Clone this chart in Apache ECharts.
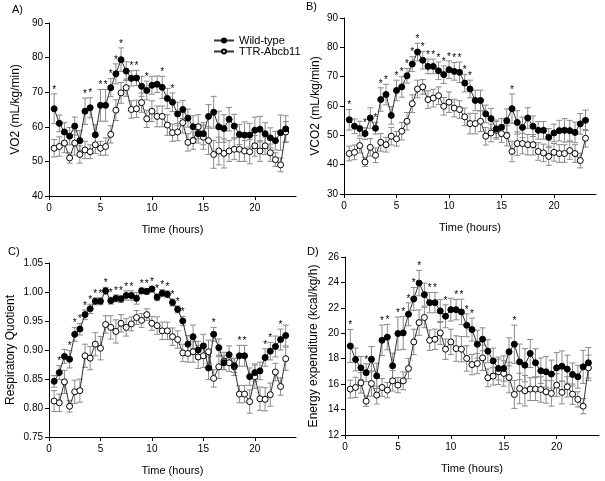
<!DOCTYPE html>
<html><head><meta charset="utf-8">
<script src="https://cdn.jsdelivr.net/npm/echarts@6/dist/echarts.min.js"></script>
<style>html,body{margin:0;padding:0;background:#fff}#c{width:605px;height:481px}</style>
</head><body><div id="c"></div>
<script>
const hours = [0.5,1,1.5,2,2.5,3,3.5,4,4.5,5,5.5,6,6.5,7,7.5,8,8.5,9,9.5,10,10.5,11,11.5,12,12.5,13,13.5,14,14.5,15,15.5,16,16.5,17,17.5,18,18.5,19,19.5,20,20.5,21,21.5,22,22.5,23];
const xTicks = [0,5,10,15,20];

// A) VO2
const vo2Wt = [65.2,61,58.5,57.3,60.2,56,64.5,65.5,57.7,66.2,66.2,71.3,75.3,79.4,76.1,74,74.1,71.7,70.5,72,72.3,71.4,68.2,67.1,63.7,65,62.5,60,58,58,63,64.2,60,59.5,62.2,60.2,57.8,57.6,57.6,59,59.3,58,56.8,56,58.3,59.4];
const vo2WtErr = [4.3,2.4,2.7,2.5,2.6,2.9,3.8,2.9,2.9,4.6,4.6,2.6,2.9,3.4,2.7,2.2,2.2,2.9,2.7,2.6,2.4,3.2,2.9,2.7,3.4,2.6,2.6,3.2,2.7,3.2,3.4,4.6,4.5,4.0,3.4,3.4,2.9,3.8,3.4,3.8,3.7,3.2,2.9,2.7,5.1,3.8];
const vo2Ko = [53.8,54.3,55.3,51,55.3,52,53.3,52.8,54.8,53.8,54.3,57.8,64.8,69.8,71.3,65,65.2,67,62.3,64.5,63,63,60.5,58.3,58.5,61.2,55.5,56,60,57,56,52,53,52.3,53,53.5,53.5,53,52.8,54.5,53,54.5,52.5,50.5,49,58.5];
const vo2KoErr = [2.5,2.8,2.8,1.5,3.5,2.5,2.5,2,2.5,2,2.5,2.5,3,3,2.5,2.5,2.5,2.8,2.5,3,3,3,3,2.5,2.5,3,2.5,2.5,3.5,3.5,4,4,4,4.2,3,3,3.5,3,3.5,3,3,2.5,2.5,2,2,3];
const vo2Stars = [0.5,3.5,4,5,5.5,6,6.5,7,8,8.5,9.5,11,12];

// B) VCO2
const vco2Wt = [55.3,53.1,52.3,50.6,55.9,52.4,62.2,63.9,56.8,65.3,66.5,70.3,74.3,78.4,75.6,73.5,73.5,72,70.7,72.4,71.8,71.5,67.8,65.8,61.9,61.9,57.3,55.7,52.2,52.7,55,59.1,54.4,52.7,55.9,53.1,51.7,51.7,49.3,50.8,51.6,51.7,51.6,51,53.9,55.1];
const vco2WtErr = [3.5,2.5,2.5,2,3.5,2,4,3.5,3,3.5,3.5,2.5,2.5,3,3,2.5,2.5,3,3,3,3,3.5,3,3,3.5,3.5,3,3.5,3,3,4,5,4,3.5,3.5,3.5,3,3,3,3,3.5,4,3.5,3.5,3.5,3.5];
const vco2Ko = [43.8,44.2,46.5,40.9,45.9,43.2,47.6,46.8,49.7,48.8,51.4,54.8,60.8,65.8,66.5,62.2,62.7,63.5,59.9,61.3,59.3,58.8,56.3,54,54,54.8,49.7,50.8,51.7,50.6,49.9,44.5,47.2,47.2,46.8,46.8,44.5,44,42.8,44.2,43.8,43.8,44.8,43.8,41.4,49];
const vco2KoErr = [2.5,2.5,2.5,1.5,3,2.5,3,2.5,3,2.5,3,3,3,3,2.5,3,3,3,3,3.5,3,3,3,3.5,3.5,3.5,3,3,3,3,3.5,3.5,4,3.5,3.5,3.5,3,3,3,3,3,3,3,3,2.5,3];
const vco2Stars = [0.5,2,3,3.5,4,5,5.5,6,6.5,7,7.5,8,8.5,9,9.5,10,10.5,11,11.5,12,16];

// C) Respiratory quotient
const rqWt = [0.846,0.861,0.889,0.884,0.927,0.936,0.961,0.971,0.984,0.984,1.002,0.985,0.989,0.988,0.994,0.994,0.989,1.002,1.001,1.005,0.991,0.998,0.996,0.982,0.970,0.950,0.910,0.923,0.900,0.907,0.869,0.927,0.904,0.878,0.892,0.873,0.890,0.890,0.854,0.861,0.864,0.887,0.898,0.906,0.918,0.925];
const rqWtErr = [0.01,0.012,0.012,0.015,0.012,0.01,0.008,0.008,0.006,0.006,0.006,0.006,0.006,0.006,0.008,0.008,0.01,0.005,0.005,0.005,0.006,0.006,0.006,0.006,0.006,0.008,0.015,0.02,0.015,0.02,0.02,0.012,0.015,0.012,0.015,0.012,0.018,0.018,0.015,0.015,0.015,0.015,0.015,0.018,0.018,0.018];
const rqKo = [0.812,0.809,0.845,0.803,0.828,0.830,0.890,0.886,0.910,0.903,0.944,0.939,0.932,0.946,0.939,0.945,0.956,0.951,0.961,0.946,0.942,0.933,0.933,0.923,0.918,0.895,0.894,0.897,0.888,0.890,0.897,0.851,0.871,0.881,0.878,0.871,0.824,0.824,0.811,0.854,0.816,0.815,0.823,0.862,0.837,0.885];
const rqKoErr = [0.018,0.015,0.02,0.01,0.02,0.02,0.02,0.02,0.02,0.02,0.015,0.02,0.02,0.015,0.015,0.012,0.012,0.012,0.01,0.012,0.015,0.015,0.015,0.015,0.015,0.015,0.015,0.018,0.02,0.02,0.02,0.015,0.02,0.015,0.015,0.015,0.015,0.015,0.02,0.02,0.02,0.02,0.02,0.015,0.015,0.02];
const rqStars = [1,2,2.5,3,3.5,4,4.5,5,5.5,6,6.5,7,7.5,8,9,9.5,10,10.5,11,11.5,12,12.5,13,16,18.5,19,21,21.5,22.5];

// D) Energy expenditure
const eeWt = [19.0,17.94,17.28,16.9,17.96,16.65,19.45,19.7,17.44,19.98,20.03,21.5,22.7,23.95,23.04,22.41,22.41,21.76,21.34,21.86,21.86,21.68,20.63,20.29,19.14,19.53,18.59,17.83,17.23,17.23,18.54,19.14,17.75,17.49,18.41,17.68,17.05,16.97,16.79,17.28,17.41,17.18,16.76,16.58,17.36,17.68];
const eeWtErr = [1.3,0.9,0.9,0.7,1.0,1.0,1.2,1.0,1.0,1.3,1.3,0.9,0.9,1.0,0.9,0.8,0.8,0.9,0.9,0.9,0.8,1.0,0.9,0.9,1.1,0.9,0.9,1.0,0.9,1.0,1.1,1.5,1.4,1.3,1.1,1.1,1.0,1.2,1.1,1.2,1.2,1.1,0.9,0.9,1.3,1.2];
const eeKo = [15.61,15.74,16.1,14.66,16.05,15.14,15.74,15.53,16.26,15.92,16.26,17.23,19.32,20.84,21.24,19.45,19.53,20.03,18.75,19.32,18.8,18.75,18.02,17.54,17.62,18.07,16.5,16.63,16.97,16.84,16.52,15.19,15.66,15.48,15.61,15.61,15.58,15.4,15.27,15.92,15.35,15.79,15.21,14.8,14.27,17.28];
const eeKoErr = [0.7,0.8,0.8,0.4,1.0,0.7,0.7,0.6,0.8,0.6,0.7,0.8,1.0,1.0,0.8,0.8,0.8,0.9,0.8,1.0,1.0,1.0,1.0,0.8,0.8,1.0,0.7,0.7,1.0,1.0,1.2,1.1,1.2,1.2,0.9,0.9,1.0,0.9,1.0,0.9,0.9,0.8,0.8,0.6,0.6,1.0];
const eeStars = [0.5,2,3.5,4,5,5.5,6,6.5,7,8,8.5,9.5,10.5,11,11.5,12,16];

const FONT = '"Liberation Sans", Arial, sans-serif';
const ERR_COLOR = '#8a8a8a';

const panels = [
  {label:'A)', lx:12, ly:4, name:'VO2 (mL/kg/min)', wt:vo2Wt, wtErr:vo2WtErr, ko:vo2Ko, koErr:vo2KoErr, stars:vo2Stars,
   ymin:40, ymax:90, yint:10, dec:0, grid:{left:49, top:23, width:247, height:173}, yGap:27},
  {label:'B)', lx:306, ly:1, name:'VCO2 (mL/kg/min)', wt:vco2Wt, wtErr:vco2WtErr, ko:vco2Ko, koErr:vco2KoErr, stars:vco2Stars,
   ymin:30, ymax:90, yint:10, dec:0, grid:{left:344, top:18, width:252, height:176}, yGap:22},
  {label:'C)', lx:8, ly:246, name:'Respiratory Quotient', wt:rqWt, wtErr:rqWtErr, ko:rqKo, koErr:rqKoErr, stars:rqStars,
   ymin:0.75, ymax:1.05, yint:0.05, dec:2, grid:{left:49, top:263, width:247, height:174}, yGap:32},
  {label:'D)', lx:307, ly:246, name:'Energy expenditure (kcal/kg/h)', wt:eeWt, wtErr:eeWtErr, ko:eeKo, koErr:eeKoErr, stars:eeStars,
   ymin:12, ymax:26, yint:2, dec:0, grid:{left:345, top:257, width:254, height:178}, yGap:25}
];

function errRender(params, api){
  const x = api.value(0), y = api.value(1), e = api.value(2);
  const t = api.coord([x, y + e]), b = api.coord([x, y - e]);
  const w = 3;
  const st = {stroke: ERR_COLOR, lineWidth: 1};
  return {type:'group', children:[
    {type:'line', shape:{x1:t[0], y1:t[1], x2:b[0], y2:b[1]}, style:st},
    {type:'line', shape:{x1:t[0]-w, y1:t[1], x2:t[0]+w, y2:t[1]}, style:st},
    {type:'line', shape:{x1:b[0]-w, y1:b[1], x2:b[0]+w, y2:b[1]}, style:st}
  ]};
}
function starRender(params, api){
  const p = api.coord([api.value(0), api.value(1)]);
  return {type:'text', x:p[0], y:p[1]+1, style:{text:'*', align:'center', verticalAlign:'bottom', textAlign:'center', textVerticalAlign:'bottom', font:'10px ' + FONT, fill:'#000'}};
}

const grids = [], xAxes = [], yAxes = [], series = [], graphics = [];
panels.forEach((p, i) => {
  grids.push(p.grid);
  xAxes.push({type:'value', gridIndex:i, min:0, max:24, interval:5,
    axisLine:{show:true, onZero:false, lineStyle:{color:'#000', width:1}},
    axisTick:{show:true, length:4, lineStyle:{color:'#000'}, customValues:xTicks},
    axisLabel:{customValues:xTicks, fontSize:10, color:'#000', margin:7, fontFamily:FONT},
    splitLine:{show:false},
    name:'Time (hours)', nameLocation:'middle', nameGap:28,
    nameTextStyle:{fontSize:11, color:'#000', fontFamily:FONT}});
  yAxes.push({type:'value', gridIndex:i, min:p.ymin, max:p.ymax, interval:p.yint,
    axisLine:{show:true, onZero:false, lineStyle:{color:'#000', width:1}},
    axisTick:{show:true, length:4, lineStyle:{color:'#000'}},
    axisLabel:{fontSize:10, color:'#000', margin:6, fontFamily:FONT, formatter:v => (+v).toFixed(p.dec)},
    splitLine:{show:false},
    name:p.name, nameLocation:'middle', nameGap:p.yGap,
    nameTextStyle:{fontSize:12, color:'#000', fontFamily:FONT}});
  const koErrData = hours.map((h, k) => [h, p.ko[k], p.koErr[k]]);
  const wtErrData = hours.map((h, k) => [h, p.wt[k], p.wtErr[k]]);
  series.push({type:'custom', xAxisIndex:i, yAxisIndex:i, renderItem:errRender, data:koErrData, z:1, silent:true,
    dimensions:['x','y','e'], encode:{x:0, y:1}});
  series.push({type:'custom', xAxisIndex:i, yAxisIndex:i, renderItem:errRender, data:wtErrData, z:1, silent:true,
    dimensions:['x','y','e'], encode:{x:0, y:1}});
  series.push({type:'line', name:'TTR-Abcb11', xAxisIndex:i, yAxisIndex:i, z:2,
    data:hours.map((h, k) => [h, p.ko[k]]), symbol:'circle', symbolSize:6, showAllSymbol:true,
    lineStyle:{color:'#333', width:1}, itemStyle:{color:'#fff', borderColor:'#000', borderWidth:1}, animation:false});
  series.push({type:'line', name:'Wild-type', xAxisIndex:i, yAxisIndex:i, z:3,
    data:hours.map((h, k) => [h, p.wt[k]]), symbol:'circle', symbolSize:6, showAllSymbol:true,
    lineStyle:{color:'#333', width:1}, itemStyle:{color:'#000', borderColor:'#000', borderWidth:1}, animation:false});
  const starData = p.stars.map(h => { const k = hours.indexOf(h); return [h, p.wt[k] + p.wtErr[k]]; });
  series.push({type:'custom', xAxisIndex:i, yAxisIndex:i, renderItem:starRender, data:starData, z:4, silent:true,
    dimensions:['x','y'], encode:{x:0, y:1}});
  graphics.push({type:'text', left:p.lx, top:p.ly, style:{text:p.label, font:'11px ' + FONT, fill:'#000'}});
});

const chart = echarts.init(document.getElementById('c'), null, {renderer:'canvas'});
chart.setOption({
  animation:false,
  backgroundColor:'#fff',
  grid:grids, xAxis:xAxes, yAxis:yAxes, series:series, graphic:graphics,
  legend:{data:['Wild-type','TTR-Abcb11'], left:208, top:30, orient:'vertical', itemWidth:20, itemHeight:5, itemGap:0,
    selectedMode:false, textStyle:{fontSize:11, color:'#000', fontFamily:FONT}}
});
</script></body></html>
